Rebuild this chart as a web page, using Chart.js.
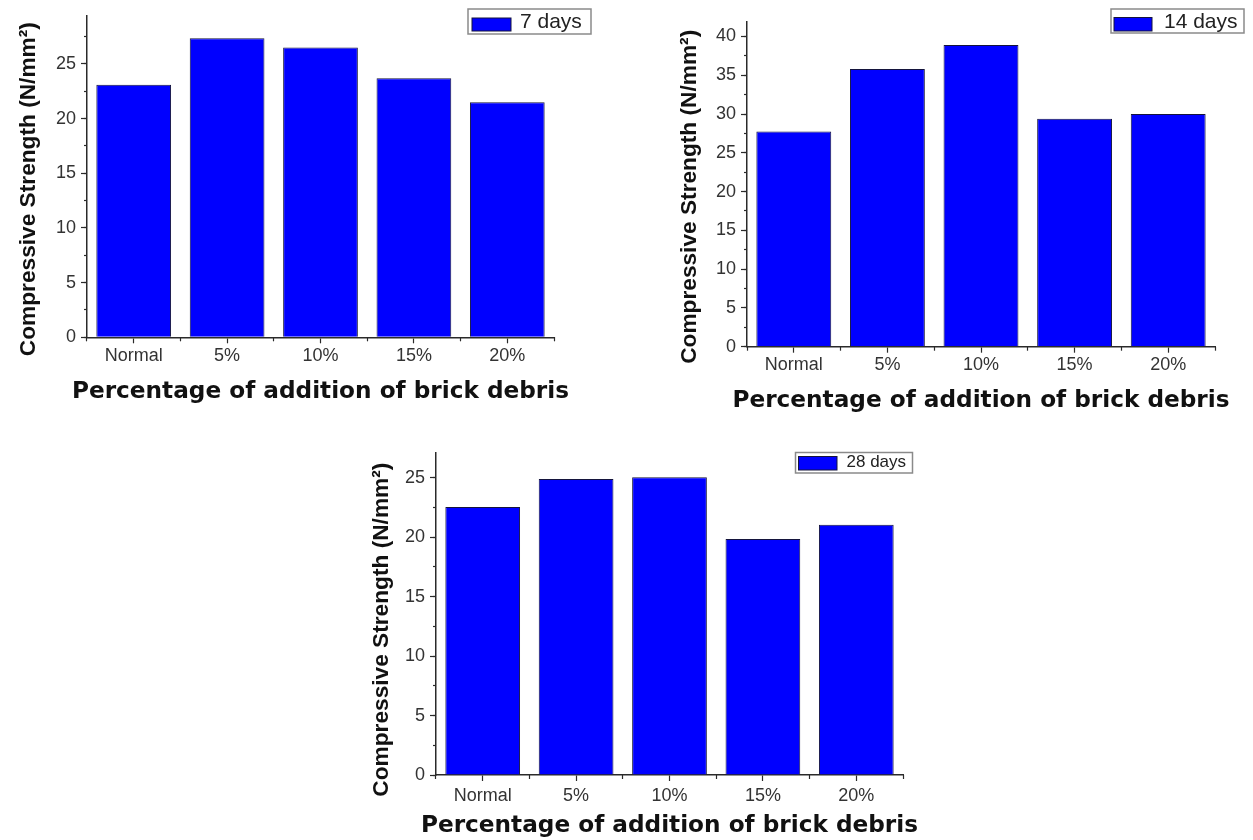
<!DOCTYPE html>
<html>
<head>
<meta charset="utf-8">
<title>Compressive strength vs brick debris</title>
<script src="https://cdn.jsdelivr.net/npm/chart.js@4.4.1/dist/chart.umd.min.js"></script>
<style>
  html, body { margin: 0; padding: 0; background: #fff; overflow: hidden; }
  body { width: 1253px; height: 840px; position: relative; }
  canvas { position: absolute; }
</style>
</head>
<body>
<canvas id="chart7" width="641" height="420" style="left:0;top:0"></canvas>
<canvas id="chart14" width="642" height="429" style="left:660px;top:0"></canvas>
<canvas id="chart28" width="641" height="403" style="left:349px;top:437px"></canvas>
<script>
const categories = ['Normal', '5%', '10%', '15%', '20%'];
const seriesLabels = ['7 days', '14 days', '28 days'];
const strength7 = [23.1, 27.35, 26.5, 23.7, 21.5];
const strength14 = [27.75, 35.8, 38.9, 29.4, 30.0];
const strength28 = [22.55, 24.9, 25.05, 19.85, 21.05];
const yTicks7 = [0, 5, 10, 15, 20, 25];
const yTicks14 = [0, 5, 10, 15, 20, 25, 30, 35, 40];
const yTicks28 = [0, 5, 10, 15, 20, 25];
const yMax7 = 29.4;
const yMax14 = 41.9;
const yMax28 = 27.1;

const AXIS = '#2a2a2a';
const TICK_TEXT = '#333';
const BAR_FILL = '#0000ff';
const BAR_EDGE = '#14143c';
const SANS = '"Liberation Sans", Arial, sans-serif';

// legend box in Origin style: grey frame, swatch, label
const boxLegend = {
  id: 'boxLegend',
  afterDraw(chart, args, o) {
    const ctx = chart.ctx;
    const ds = chart.data.datasets[0];
    ctx.save();
    ctx.fillStyle = '#fff';
    ctx.fillRect(o.x, o.y, o.w, o.h);
    ctx.strokeStyle = '#8a8a8a';
    ctx.lineWidth = 1.5;
    ctx.strokeRect(o.x, o.y, o.w, o.h);
    ctx.fillStyle = ds.backgroundColor;
    ctx.fillRect(o.sx, o.sy, o.sw, o.sh);
    ctx.strokeStyle = ds.borderColor;
    ctx.lineWidth = 1;
    ctx.strokeRect(o.sx, o.sy, o.sw, o.sh);
    ctx.fillStyle = '#222';
    ctx.font = o.font;
    ctx.textBaseline = 'middle';
    ctx.textAlign = 'left';
    ctx.fillText(ds.label, o.tx, o.ty);
    ctx.restore();
  }
};

function makeChart(id, values, label, yTicks, yMax, lay) {
  const tickGrid = (len) => ({
    drawOnChartArea: false, tickLength: len, tickColor: AXIS, tickWidth: 1.2
  });
  return new Chart(document.getElementById(id), {
    type: 'bar',
    data: {
      labels: categories,
      datasets: [{
        label: label,
        data: values,
        xAxisID: 'x',
        yAxisID: 'y',
        backgroundColor: BAR_FILL,
        borderColor: BAR_EDGE,
        borderWidth: 1,
        barPercentage: 0.8,
        categoryPercentage: 1
      }]
    },
    options: {
      responsive: false,
      animation: false,
      devicePixelRatio: 1,
      layout: { padding: { top: lay.top, right: 0, bottom: 0, left: 0 } },
      plugins: {
        legend: { display: false },
        tooltip: { enabled: false },
        // x axis title as a full-width block so it is not squeezed to the axis length
        title: {
          display: true,
          position: 'bottom',
          text: 'Percentage of addition of brick debris',
          color: '#111',
          font: { family: '"DejaVu Sans", sans-serif', weight: 'bold', size: 23.2 },
          padding: { top: 0, bottom: lay.titleBottom }
        },
        boxLegend: lay.legend
      },
      scales: {
        x: {
          weight: 1,
          offset: true,
          grid: Object.assign(tickGrid(6), { offset: false }),
          border: { color: AXIS, width: 1.5 },
          ticks: {
            color: TICK_TEXT, padding: lay.xPad, maxRotation: 0, autoSkip: false,
            font: { family: SANS, size: 18 }
          },
          afterFit: (s) => { s.height = lay.xHeight; }
        },
        xMinor: {
          type: 'category',
          position: 'bottom',
          weight: 0,
          offset: true,
          grid: Object.assign(tickGrid(4), { offset: true }),
          border: { display: false },
          ticks: { display: false },
          afterFit: (s) => { s.height = 0; }
        },
        y: {
          weight: 1,
          min: 0,
          max: yMax,
          grid: tickGrid(6),
          border: { color: AXIS, width: 1.5 },
          ticks: { color: TICK_TEXT, padding: 5, font: { family: SANS, size: 18 } },
          afterBuildTicks: (s) => { s.ticks = yTicks.map(v => ({ value: v })); },
          title: {
            display: true,
            text: 'Compressive Strength (N/mm\u00b2)' + '\u00a0'.repeat(lay.yShift),
            color: '#111',
            font: { family: SANS, weight: 'bold', size: 22.7 },
            padding: { top: lay.yTitleTop, bottom: 0 }
          },
          afterFit: (s) => { s.width = 87; }
        },
        yMinor: {
          type: 'linear',
          position: 'left',
          weight: 0,
          min: 0,
          max: yMax,
          grid: tickGrid(3),
          border: { display: false },
          ticks: { display: false, stepSize: 2.5, includeBounds: false },
          afterFit: (s) => { s.width = 0; }
        },
        // empty right-hand spacer, mirrors the y axis width so the title centres on the plot
        spacer: {
          type: 'linear',
          position: 'right',
          grid: { display: false },
          border: { display: false },
          ticks: { display: false },
          afterFit: (s) => { s.width = 87; }
        }
      }
    },
    plugins: [boxLegend]
  });
}

makeChart('chart7', strength7, seriesLabels[0], yTicks7, yMax7, {
  top: 12.7, xHeight: 40.86, xPad: 2, titleBottom: 14,
  yTitleTop: 15.4, yShift: 4,
  legend: { x: 468, y: 9, w: 123, h: 25, sx: 472, sy: 18, sw: 39, sh: 13,
            tx: 520, ty: 22, font: '21px ' + SANS }
});

makeChart('chart14', strength14, seriesLabels[1], yTicks14, yMax14, {
  top: 21.7, xHeight: 40.46, xPad: 2, titleBottom: 14,
  yTitleTop: 16, yShift: 4,
  legend: { x: 451, y: 9, w: 133, h: 24, sx: 454, sy: 17.5, sw: 38, sh: 13.5,
            tx: 504, ty: 22, font: '21px ' + SANS }
});

makeChart('chart28', strength28, seriesLabels[2], yTicks28, yMax28, {
  top: 13, xHeight: 37.16, xPad: 4, titleBottom: 0,
  yTitleTop: 19, yShift: 5,
  legend: { x: 446.5, y: 15.5, w: 117, h: 20.5, sx: 449.5, sy: 19.5, sw: 38.5, sh: 13.5,
            tx: 497.5, ty: 25.5, font: '17px ' + SANS }
});
</script>
</body>
</html>
